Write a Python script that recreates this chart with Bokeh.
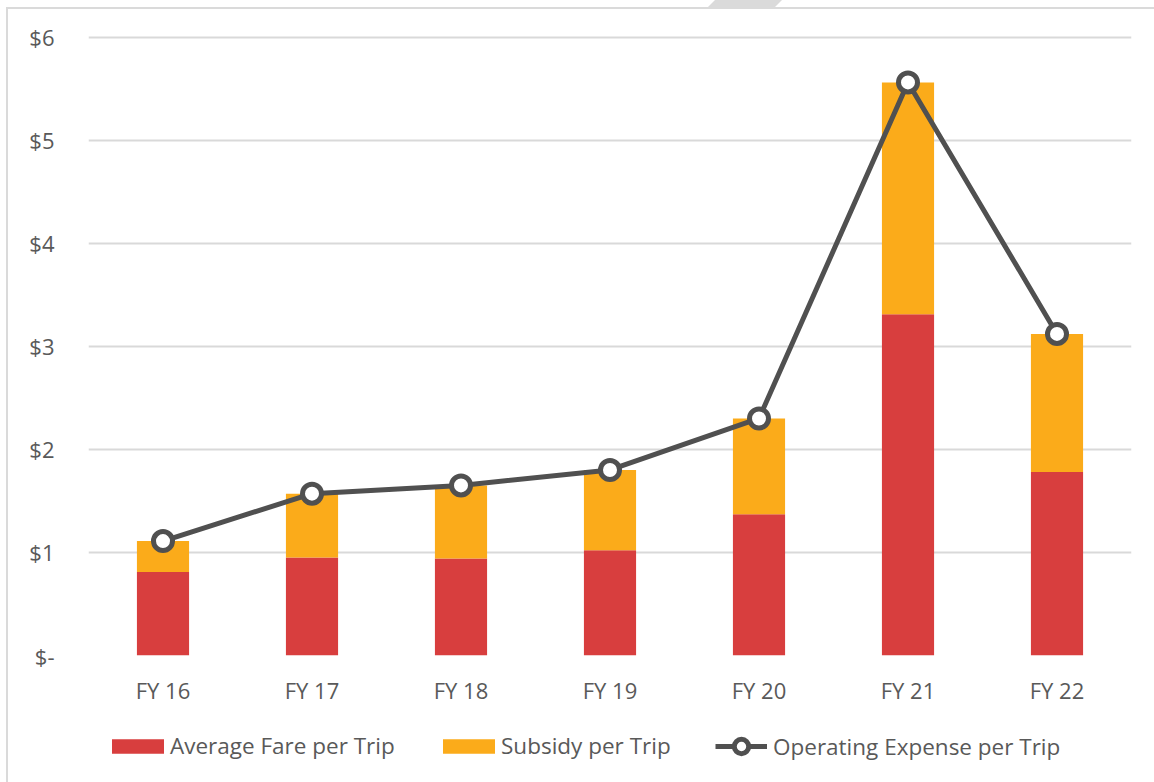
from bokeh.plotting import figure
from bokeh.layouts import column, row
from bokeh.models import (FactorRange, Range1d, FixedTicker, Legend, LegendItem,
                          Spacer)
from bokeh.embed import file_html
from bokeh.resources import INLINE

# Fiscal years and per-trip values (dollars)
years = ["FY 16", "FY 17", "FY 18", "FY 19", "FY 20", "FY 21", "FY 22"]
avg_fare = [0.81, 0.95, 0.94, 1.02, 1.37, 3.31, 1.78]
subsidy = [0.30, 0.62, 0.71, 0.78, 0.93, 2.25, 1.34]
opex = [1.11, 1.57, 1.65, 1.80, 2.30, 5.56, 3.12]

y_ticks = [0, 1, 2, 3, 4, 5, 6]
y_tick_labels = ["$-", "$1", "$2", "$3", "$4", "$5", "$6"]

FONT = "Open Sans"
TEXT = "#595959"
RED = "#D83E3E"
ORANGE = "#FBAB1A"
LINE = "#505050"
GRID = "#D9D9D9"
FRAME = "#DADADA"

chart = figure(width=1146, height=713, x_range=FactorRange(*years),
               y_range=Range1d(0, 6.015), output_backend="svg", toolbar_location=None,
               min_border_left=80, min_border_right=23, min_border_top=26,
               min_border_bottom=67)
chart.outline_line_color = None
chart.background_fill_color = "white"
chart.border_fill_color = "white"

source = dict(years=years, avg_fare=avg_fare, subsidy=subsidy)
chart.vbar_stack(["avg_fare", "subsidy"], x="years", width=0.35,
                 color=[RED, ORANGE], line_color=None, source=source)
chart.line(years, opex, line_width=5, color=LINE)
chart.scatter(years, opex, size=19, fill_color="white", line_color=LINE,
              line_width=5)

# axes
chart.yaxis.ticker = FixedTicker(ticks=y_ticks)
chart.yaxis.major_label_overrides = {t: lab for t, lab in zip(y_ticks, y_tick_labels)}
for ax in (chart.xaxis[0], chart.yaxis[0]):
    ax.axis_line_color = None
    ax.major_tick_line_color = None
    ax.minor_tick_line_color = None
    ax.major_label_text_font = FONT
    ax.major_label_text_font_size = "22px"
    ax.major_label_text_color = TEXT
chart.yaxis.major_label_standoff = 28
chart.xaxis.major_label_standoff = 13
chart.xgrid.grid_line_color = None
chart.ygrid.grid_line_color = GRID
chart.ygrid.grid_line_width = 2

# legend strip under the chart; its key glyphs sit outside the visible range
key = figure(width=1146, height=60, x_range=Range1d(0, 1), y_range=Range1d(0, 1),
             output_backend="svg", toolbar_location=None,
             x_axis_location=None, y_axis_location=None, min_border=0)
key.outline_line_color = None
key.grid.visible = False
fare_key = key.vbar(x=[-5], top=[-5], width=0.1, color=RED, line_color=None)
sub_key = key.vbar(x=[-5], top=[-5], width=0.1, color=ORANGE, line_color=None)
line_key = key.line(x=[-5, -4], y=[-5, -5], line_width=5, color=LINE)
dot_key = key.scatter(x=[-5], y=[-5], fill_color="white", line_color=LINE,
                      line_width=5)

# (label, renderers, x, y, glyph width, glyph height, standoff)
entries = [("Average Fare per Trip", [fare_key], 17, 21, 65, 18, 0),
           ("Subsidy per Trip", [sub_key], 348, 21, 65, 18, 0),
           ("Operating Expense per Trip", [line_key, dot_key], 627, 18, 52, 36, 6)]
for label, rends, xloc, yloc, gw, gh, gap in entries:
    key.add_layout(Legend(items=[LegendItem(label=label, renderers=rends)],
                          location=(xloc, yloc), orientation="horizontal",
                          glyph_width=gw, glyph_height=gh, label_standoff=gap,
                          padding=0, margin=0, border_line_color=None,
                          background_fill_alpha=0,
                          label_text_font=FONT, label_text_font_size="22.5px",
                          label_text_color=TEXT), "center")

# page frame: tab on top, thin rule along the top and left edges
tab = Spacer(width=74, height=7,
             styles={"background-color": FRAME,
                     "clip-path": "polygon(9.5% 0, 100% 0, 90.5% 100%, 0 100%)"})
top_strip = row(Spacer(width=708, height=7), tab)
top_rule = row(Spacer(width=6, height=2),
               Spacer(width=1148, height=2, styles={"background-color": FRAME}))
body = row(Spacer(width=6, height=773),
           Spacer(width=2, height=773, styles={"background-color": FRAME}),
           column(chart, key))
p = column(top_strip, top_rule, body)

open("out.html", "w").write(file_html(p, INLINE))
